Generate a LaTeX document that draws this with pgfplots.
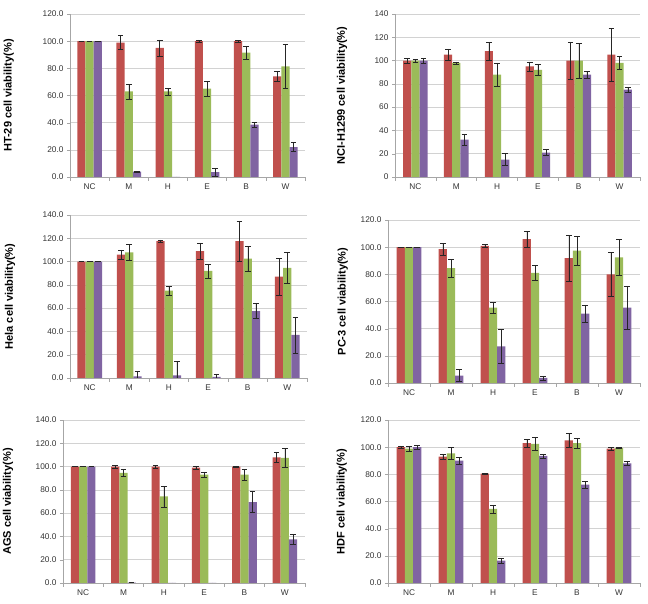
\documentclass[border=0pt]{standalone}
\usepackage{pgfplots}
\pgfplotsset{compat=1.18}
\usepackage{fontspec}
\setmainfont{Liberation Sans}
\definecolor{cred}{HTML}{C0504D}
\definecolor{cgreen}{HTML}{9BBB59}
\definecolor{cpurple}{HTML}{8064A2}
\definecolor{tickgray}{HTML}{333333}
\pgfplotsset{
  panel/.style={
    scale only axis,
    ybar=0pt, bar width=8.2pt,
    ymin=0,
    xmin=-0.5, xmax=5.5,
    xtick={0,1,2,3,4,5},
    xticklabels={NC,M,H,E,B,W},
    major x tick style={draw=none},
    minor xtick={-0.5,0.5,1.5,2.5,3.5,4.5,5.5},
    minor x tick style={gray!70, line width=0.5pt},
    minor tick length=4pt,
    tick align=outside,
    major tick length=3pt,
    axis x line*=bottom, axis y line*=left,
    axis line style={gray!70, line width=0.6pt, -},
    ytick style={gray!70},
    ymajorgrids, grid style={gray!35, line width=0.6pt},
    ticklabel style={font=\fontsize{8.3}{9}\selectfont, text=tickgray},
    /pgf/number format/assume math mode=true,
    ylabel style={font=\bfseries\fontsize{11}{13}\selectfont, anchor=center},
    every axis plot/.append style={draw=none},
    error bars/y dir=both, error bars/y explicit,
    error bars/error bar style={black!85, line width=0.45pt},
    error bars/error mark options={rotate=90, mark size=2.8pt, black!85, line width=0.45pt},
  },
  dec/.style={yticklabel style={/pgf/number format/.cd, fixed, fixed zerofill, precision=1}},
}
\begin{document}
\begin{tikzpicture}
\useasboundingbox (0,0) rectangle (648pt,604pt);
% HT-29
\begin{axis}[panel, dec, at={(70pt,427pt)}, anchor=south west, width=235pt, height=163pt,
  ymax=120, ytick={0,20,...,120}, ylabel={HT-29 cell viability(\%)},
  ylabel style={at={(axis description cs:-0.26,0.5)}}]
\addplot[fill=cred] coordinates {(0,100) +- (0,0) (1,99) +- (0,5) (2,95) +- (0,6) (3,100) +- (0,1) (4,100) +- (0,0.6) (5,74) +- (0,3.5)};
\addplot[fill=cgreen] coordinates {(0,100) +- (0,0) (1,63) +- (0,5.5) (2,63) +- (0,2.5) (3,65) +- (0,5.5) (4,91.5) +- (0,4.5) (5,81.5) +- (0,16)};
\addplot[fill=cpurple] coordinates {(0,100) +- (0,0) (1,4) +- (0,0.5) (2,0) +- (0,0) (3,3.5) +- (0,3.2) (4,38.5) +- (0,1.5) (5,22) +- (0,3.3)};
\end{axis}
% NCI-H1299
\begin{axis}[panel, at={(395pt,427pt)}, anchor=south west, width=245pt, height=163pt,
  ymax=140, ytick={0,20,...,140}, ylabel={NCI-H1299 cell viability(\%)},
  ylabel style={at={(axis description cs:-0.216,0.5)}}]
\addplot[fill=cred] coordinates {(0,100) +- (0,2) (1,105) +- (0,5) (2,108) +- (0,7.5) (3,95) +- (0,4) (4,100) +- (0,16) (5,105) +- (0,22.5)};
\addplot[fill=cgreen] coordinates {(0,100) +- (0,1) (1,98) +- (0,1) (2,88) +- (0,10) (3,92) +- (0,5) (4,100) +- (0,15) (5,98) +- (0,5.5)};
\addplot[fill=cpurple] coordinates {(0,100) +- (0,2) (1,32) +- (0,5) (2,15) +- (0,5) (3,21) +- (0,2.5) (4,88) +- (0,3) (5,75) +- (0,2)};
\end{axis}
% Hela
\begin{axis}[panel, dec, at={(70pt,226pt)}, anchor=south west, width=237pt, height=163pt,
  ymax=140, ytick={0,20,...,140}, ylabel={Hela cell viability(\%)},
  ylabel style={at={(axis description cs:-0.253,0.5)}}]
\addplot[fill=cred] coordinates {(0,100) +- (0,0) (1,106) +- (0,4) (2,117.5) +- (0,1.2) (3,109) +- (0,7) (4,117.5) +- (0,17.5) (5,87) +- (0,16)};
\addplot[fill=cgreen] coordinates {(0,100) +- (0,0) (1,108) +- (0,7) (2,75) +- (0,3.5) (3,92) +- (0,6) (4,102.5) +- (0,11) (5,94.5) +- (0,13.5)};
\addplot[fill=cpurple] coordinates {(0,100) +- (0,0) (1,1.4) +- (0,4.5) (2,2.3) +- (0,12) (3,1) +- (0,2.5) (4,57.5) +- (0,6.5) (5,37) +- (0,15.5)};
\end{axis}
% PC-3
\begin{axis}[panel, dec, at={(388pt,221pt)}, anchor=south west, width=252pt, height=163pt,
  ymax=120, ytick={0,20,...,120}, ylabel={PC-3 cell viability(\%)},
  ylabel style={at={(axis description cs:-0.179,0.5)}}]
\addplot[fill=cred] coordinates {(0,100) +- (0,0) (1,98.5) +- (0,4.5) (2,101) +- (0,1) (3,106) +- (0,6) (4,92) +- (0,17) (5,80) +- (0,16)};
\addplot[fill=cgreen] coordinates {(0,100) +- (0,0) (1,84.5) +- (0,6.5) (2,55.5) +- (0,4) (3,81) +- (0,5.5) (4,97.5) +- (0,10.5) (5,92.5) +- (0,13)};
\addplot[fill=cpurple] coordinates {(0,100) +- (0,0) (1,5.5) +- (0,4.5) (2,27) +- (0,12.5) (3,3.7) +- (0,1.5) (4,51) +- (0,6.5) (5,55.5) +- (0,16)};
\end{axis}
% AGS
\begin{axis}[panel, dec, at={(63pt,21pt)}, anchor=south west, width=242pt, height=163pt,
  ymax=140, ytick={0,20,...,140}, ylabel={AGS cell viability(\%)},
  ylabel style={at={(axis description cs:-0.227,0.5)}}]
\addplot[fill=cred] coordinates {(0,100) +- (0,0) (1,100) +- (0,1.2) (2,100) +- (0,1) (3,99) +- (0,1.5) (4,100) +- (0,0.5) (5,108) +- (0,4.5)};
\addplot[fill=cgreen] coordinates {(0,100) +- (0,0) (1,94.5) +- (0,3) (2,74.5) +- (0,9) (3,93) +- (0,2.5) (4,93) +- (0,4.5) (5,107.5) +- (0,8)};
\addplot[fill=cpurple] coordinates {(0,100) +- (0,0) (1,0.4) +- (0,0) (2,0) +- (0,0) (3,0) +- (0,0) (4,69.5) +- (0,9) (5,37.5) +- (0,4.5)};
\end{axis}
% HDF
\begin{axis}[panel, dec, at={(388pt,21pt)}, anchor=south west, width=252pt, height=163pt,
  ymax=120, ytick={0,20,...,120}, ylabel={HDF cell viability(\%)},
  ylabel style={at={(axis description cs:-0.183,0.5)}}]
\addplot[fill=cred] coordinates {(0,100) +- (0,1) (1,93) +- (0,2) (2,80.5) +- (0,0.5) (3,103) +- (0,3) (4,105) +- (0,5) (5,99) +- (0,1)};
\addplot[fill=cgreen] coordinates {(0,99) +- (0,2) (1,95.5) +- (0,4.5) (2,54.5) +- (0,3) (3,102.5) +- (0,5) (4,103) +- (0,3.5) (5,99.5) +- (0,0.5)};
\addplot[fill=cpurple] coordinates {(0,100) +- (0,1.5) (1,90) +- (0,2.5) (2,16.5) +- (0,2) (3,93.5) +- (0,1.5) (4,72.5) +- (0,2.5) (5,88) +- (0,1.5)};
\end{axis}
\end{tikzpicture}
\end{document}
